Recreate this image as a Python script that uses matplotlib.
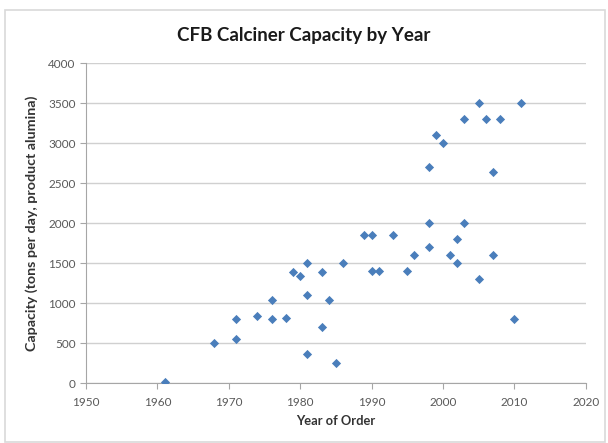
# CFB calciner capacity vs. year of order
import numpy as np
import matplotlib.pyplot as plt
from matplotlib.patches import Rectangle

plt.rcParams['font.family'] = ['Lato', 'DejaVu Sans']

years = [1961, 1968, 1971, 1971, 1974, 1976, 1976, 1978, 1979, 1980,
         1981, 1981, 1981, 1983, 1983, 1984, 1985, 1986, 1989, 1990,
         1990, 1991, 1993, 1995, 1996, 1998, 1998, 1998, 1999, 2000,
         2001, 2002, 2002, 2003, 2003, 2005, 2005, 2006, 2007, 2007,
         2008, 2010, 2011]
capacity = [15, 500, 800, 560, 840, 1040, 800, 820, 1390, 1340,
            1500, 1100, 370, 1390, 700, 1040, 250, 1500, 1850, 1850,
            1400, 1400, 1850, 1400, 1600, 2700, 2000, 1700, 3100, 3000,
            1600, 1800, 1500, 3300, 2000, 3500, 1300, 3300, 2640, 1600,
            3300, 800, 3500]
xticks = np.arange(1950, 2021, 10)
yticks = np.arange(0, 4001, 500)

fig = plt.figure(figsize=(6.08, 4.43), dpi=100)
fig.patches.append(Rectangle((5/608, 1/443), 600/608, 432/443, transform=fig.transFigure,
                             fill=False, edgecolor='#d9d9d9', linewidth=1.2))
ax = fig.add_axes([86/608, 1 - 383.3/443, 499.7/608, 320/443])

ax.scatter(years, capacity, marker='D', s=22, color='#4a7ebb', zorder=3, linewidths=0)

ax.set_xlim(1950, 2020)
ax.set_ylim(0, 4000)
ax.set_xticks(xticks)
ax.set_yticks(yticks)
ax.yaxis.grid(True, color='#d0d0d0', linewidth=1)
ax.set_axisbelow(True)
for side in ['top', 'right']:
    ax.spines[side].set_visible(False)
for side in ['left', 'bottom']:
    ax.spines[side].set_color('#a6a6a6')
ax.tick_params(colors='#a6a6a6', labelcolor='#595959', labelsize=8.5, length=4)
ax.tick_params(axis='x', pad=6)

ax.set_xlabel('Year of Order', fontsize=9.3, fontweight='bold', color='#333333', labelpad=5)
ax.set_ylabel('Capacity (tons per day, product alumina)', fontsize=10.3, fontweight='bold',
              color='#333333', labelpad=7)
fig.text(0.5, 1 - 35/443, 'CFB Calciner Capacity by Year', ha='center', va='center',
         fontsize=13.5, fontweight='bold', color='#1a1a1a')

fig.savefig('out.png', dpi=100)
